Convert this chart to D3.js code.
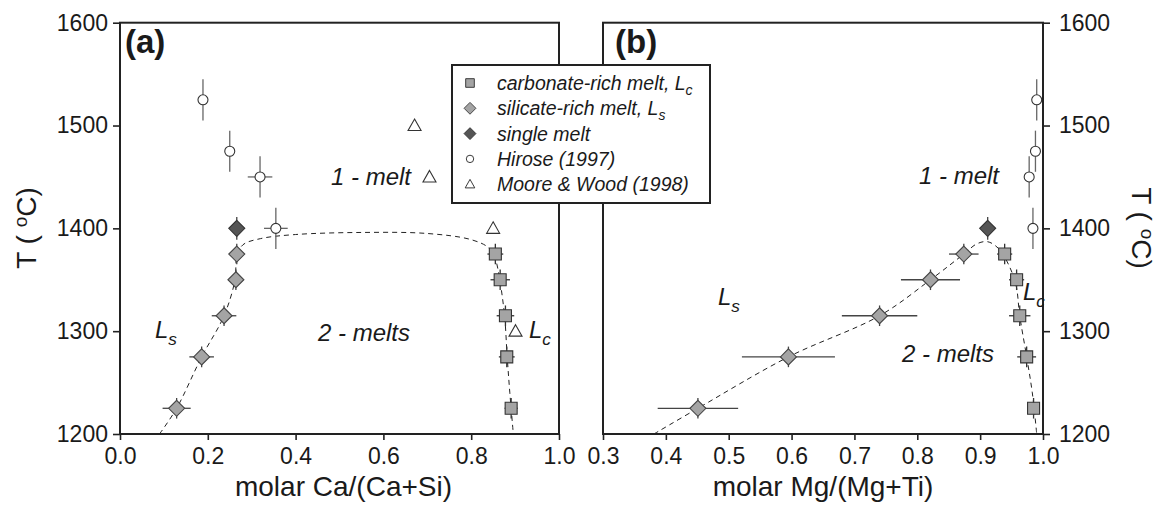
<!DOCTYPE html>
<html>
<head>
<meta charset="utf-8">
<script src="https://cdn.jsdelivr.net/npm/d3@7/dist/d3.min.js"></script>
<style>
  html, body { margin: 0; padding: 0; background: #fff; }
  svg { display: block; font-family: "Liberation Sans", Arial, sans-serif; }
</style>
</head>
<body>
<svg id="chart" width="1158" height="505"></svg>
<script>
// ---- data: run temperatures (°C) ----
const meltT = [1375, 1350, 1315, 1275, 1225];
const meltTErr = [10, 10, 10, 10, 10];
const singleT = [1400];
const hiroseT = [1525, 1475, 1450, 1400];
const hiroseTErr = [20, 20, 20, 20];
const mooreT = [1500, 1450, 1400, 1300];

// ---- panel (a): molar Ca/(Ca+Si) ----
const aCarbX = [0.855, 0.866, 0.878, 0.881, 0.891];
const aCarbXErr = [0.018, 0.022, 0.02, 0.018, 0.015];
const aSilX = [0.266, 0.264, 0.237, 0.186, 0.129];
const aSilXErr = [0.016, 0.017, 0.028, 0.028, 0.032];
const aSingleX = [0.266];
const aHiroseX = [0.189, 0.250, 0.319, 0.355];
const aHiroseXErr = [0, 0, 0.028, 0.027];
const aMooreX = [0.671, 0.705, 0.850, 0.901];
const aBoundX = [0.090, 0.129, 0.186, 0.237, 0.262, 0.266, 0.280, 0.320, 0.400, 0.550, 0.700, 0.800, 0.840, 0.855, 0.865, 0.876, 0.882, 0.888, 0.896];
const aBoundT = [1200, 1225, 1275, 1315, 1350, 1372, 1384, 1390, 1394, 1396, 1395, 1389, 1381, 1370, 1350, 1315, 1275, 1240, 1200];

// ---- panel (b): molar Mg/(Mg+Ti) ----
const bCarbX = [0.939, 0.958, 0.963, 0.974, 0.985];
const bCarbXErr = [0.012, 0.012, 0.017, 0.015, 0.008];
const bSilX = [0.874, 0.821, 0.740, 0.595, 0.451];
const bSilXErr = [0.0235, 0.047, 0.060, 0.074, 0.064];
const bSingleX = [0.912];
const bHiroseX = [0.990, 0.988, 0.978, 0.984];
const bBoundX = [0.381, 0.451, 0.595, 0.740, 0.821, 0.874, 0.895, 0.912, 0.930, 0.945, 0.957, 0.963, 0.974, 0.983, 0.990];
const bBoundT = [1200, 1225, 1275, 1315, 1350, 1375, 1385, 1387, 1380, 1365, 1345, 1315, 1275, 1240, 1200];

// ---- axis ticks ----
const tempTicks = [1200, 1300, 1400, 1500, 1600];
const aTicks = [0.0, 0.2, 0.4, 0.6, 0.8, 1.0];
const bTicks = [0.3, 0.4, 0.5, 0.6, 0.7, 0.8, 0.9, 1.0];

// ---- legend entries ----
const legendLabels = [
  ["carbonate-rich melt, L", "c"],
  ["silicate-rich melt, L", "s"],
  ["single melt", ""],
  ["Hirose (1997)", ""],
  ["Moore & Wood (1998)", ""]
];
const legendKinds = ["square", "diamond", "darkDiamond", "circle", "triangle"];

const svg = d3.select("#chart");
const FONT = '"Liberation Sans", Arial, sans-serif';
const INK = "#222";

const y = d3.scaleLinear().domain([1200, 1600]).range([434, 22.7]);
const xA = d3.scaleLinear().domain([0, 1]).range([120, 559]);
const xB = d3.scaleLinear().domain([0.3, 1]).range([603, 1043]);

const symbols = {
  square: { d: "M-6,-6H6V6H-6Z", fill: "#a4a4a4", stroke: "#333" },
  diamond: { d: "M0,-8L8,0L0,8L-8,0Z", fill: "#a4a4a4", stroke: "#444" },
  darkDiamond: { d: "M0,-8L8,0L0,8L-8,0Z", fill: "#555", stroke: "#333" },
  circle: { d: "M5,0A5,5 0 1,1 -5,0A5,5 0 1,1 5,0Z", fill: "#fff", stroke: "#333" },
  triangle: { d: "M0,-6.5L6.5,5L-6.5,5Z", fill: "#fff", stroke: "#333" }
};

function drawAxes(g, x, ticks, side) {
  const xAxis = d3.axisBottom(x).tickValues(ticks).tickFormat(d3.format(".1f"))
    .tickSize(6).tickPadding(8).tickSizeOuter(0);
  const ax = g.append("g").attr("transform", `translate(0,${y.range()[0]})`).call(xAxis);
  let yAxis, yx;
  if (side === "left") {
    yAxis = d3.axisLeft(y).tickValues(tempTicks).tickFormat(d3.format("d")).tickSize(7).tickPadding(5);
    yx = x.range()[0];
  } else {
    yAxis = d3.axisRight(y).tickValues(tempTicks).tickFormat(d3.format("d")).tickSize(7).tickPadding(9);
    yx = x.range()[1];
  }
  const ay = g.append("g").attr("transform", `translate(${yx},0)`).call(yAxis);
  [ax, ay].forEach(a => {
    a.select(".domain").remove();
    a.selectAll(".tick line").attr("stroke", INK).attr("stroke-width", 1.6);
    a.selectAll(".tick text").attr("fill", "#1a1a1a").style("font-family", FONT).style("font-size", "23px");
  });
}

function drawFrame(g, x) {
  g.append("rect")
    .attr("x", x.range()[0]).attr("y", y.range()[1])
    .attr("width", x.range()[1] - x.range()[0])
    .attr("height", y.range()[0] - y.range()[1])
    .attr("fill", "none").attr("stroke", INK).attr("stroke-width", 2);
}

function drawBoundary(g, x, xs, ts) {
  const line = d3.line().x(d => x(d[0])).y(d => y(d[1])).curve(d3.curveCatmullRom.alpha(0.5));
  g.append("path").datum(xs.map((v, i) => [v, ts[i]]))
    .attr("d", line).attr("fill", "none").attr("stroke", "#222")
    .attr("stroke-width", 1).attr("stroke-dasharray", "5,4");
}

function drawErrorBars(g, x, xs, ts, xErr, tErr, color) {
  xs.forEach((v, i) => {
    const xe = xErr ? xErr[i] : 0;
    const te = tErr ? tErr[i] : 0;
    if (xe > 0) {
      g.append("line").attr("x1", x(v - xe)).attr("x2", x(v + xe))
        .attr("y1", y(ts[i])).attr("y2", y(ts[i]))
        .attr("stroke", color).attr("stroke-width", 1.3);
    }
    if (te > 0) {
      g.append("line").attr("x1", x(v)).attr("x2", x(v))
        .attr("y1", y(ts[i] - te)).attr("y2", y(ts[i] + te))
        .attr("stroke", color).attr("stroke-width", 1.3);
    }
  });
}

function drawMarks(g, x, xs, ts, kind) {
  const s = symbols[kind];
  g.selectAll(null).data(xs.map((v, i) => [v, ts[i]])).enter().append("path")
    .attr("transform", d => `translate(${x(d[0])},${y(d[1])})`)
    .attr("d", s.d).attr("fill", s.fill).attr("stroke", s.stroke).attr("stroke-width", 1.1);
}

function italicLabel(g, px, py, main, sub, size) {
  const t = g.append("text").attr("x", px).attr("y", py)
    .style("font-family", FONT).style("font-style", "italic").style("font-size", size + "px")
    .attr("fill", "#1a1a1a").text(main);
  if (sub) {
    t.append("tspan").attr("dy", size * 0.28).style("font-size", (size * 0.72) + "px").text(sub);
  }
  return t;
}

function tempTitle(g, px, py, rot) {
  const t = g.append("text")
    .attr("transform", `translate(${px},${py}) rotate(${rot})`)
    .attr("text-anchor", "middle")
    .style("font-family", FONT).style("font-size", "28px").attr("fill", "#1a1a1a");
  t.append("tspan").text("T ( ");
  t.append("tspan").attr("dy", -9).style("font-size", "19px").text("o");
  t.append("tspan").attr("dy", 9).text("C)");
}

// ---- panel (a) ----
const gA = svg.append("g");
drawAxes(gA, xA, aTicks, "left");
drawBoundary(gA, xA, aBoundX, aBoundT);
drawErrorBars(gA, xA, aHiroseX, hiroseT, aHiroseXErr, hiroseTErr, "#666");
drawErrorBars(gA, xA, aSilX, meltT, aSilXErr, meltTErr, "#444");
drawErrorBars(gA, xA, aCarbX, meltT, aCarbXErr, meltTErr, "#333");
drawErrorBars(gA, xA, aSingleX, singleT, null, [11], "#444");
drawMarks(gA, xA, aHiroseX, hiroseT, "circle");
drawMarks(gA, xA, aMooreX, mooreT, "triangle");
drawMarks(gA, xA, aSilX, meltT, "diamond");
drawMarks(gA, xA, aCarbX, meltT, "square");
drawMarks(gA, xA, aSingleX, singleT, "darkDiamond");
drawFrame(gA, xA);
gA.append("text").attr("x", 125).attr("y", 53)
  .style("font-family", FONT).style("font-weight", "bold").style("font-size", "33px")
  .attr("fill", "#1a1a1a").text("(a)");
italicLabel(gA, 331, 185, "1 - melt", "", 24);
italicLabel(gA, 318, 341, "2 - melts", "", 24);
italicLabel(gA, 155, 338, "L", "s", 24);
italicLabel(gA, 529, 338, "L", "c", 24);
gA.append("text").attr("x", (xA.range()[0] + xA.range()[1]) / 2 + 4).attr("y", 496)
  .attr("text-anchor", "middle").style("font-family", FONT).style("font-size", "28px")
  .attr("fill", "#1a1a1a").text("molar Ca/(Ca+Si)");
tempTitle(gA, 36, 228, -90);

// ---- panel (b) ----
const gB = svg.append("g");
drawAxes(gB, xB, bTicks, "right");
drawBoundary(gB, xB, bBoundX, bBoundT);
drawErrorBars(gB, xB, bHiroseX, hiroseT, null, hiroseTErr, "#666");
drawErrorBars(gB, xB, bSilX, meltT, bSilXErr, meltTErr, "#444");
drawErrorBars(gB, xB, bCarbX, meltT, bCarbXErr, meltTErr, "#333");
drawErrorBars(gB, xB, bSingleX, singleT, null, [11], "#444");
drawMarks(gB, xB, bHiroseX, hiroseT, "circle");
drawMarks(gB, xB, bSilX, meltT, "diamond");
drawMarks(gB, xB, bCarbX, meltT, "square");
drawMarks(gB, xB, bSingleX, singleT, "darkDiamond");
drawFrame(gB, xB);
gB.append("text").attr("x", 615).attr("y", 53)
  .style("font-family", FONT).style("font-weight", "bold").style("font-size", "33px")
  .attr("fill", "#1a1a1a").text("(b)");
italicLabel(gB, 919, 184, "1 - melt", "", 24);
italicLabel(gB, 902, 362, "2 - melts", "", 24);
italicLabel(gB, 718, 305, "L", "s", 24);
italicLabel(gB, 1023, 300, "L", "c", 24);
gB.append("text").attr("x", (xB.range()[0] + xB.range()[1]) / 2).attr("y", 496)
  .attr("text-anchor", "middle").style("font-family", FONT).style("font-size", "28px")
  .attr("fill", "#1a1a1a").text("molar Mg/(Mg+Ti)");
tempTitle(gB, 1132, 228, 90);

// ---- legend ----
const leg = svg.append("g");
leg.append("rect").attr("x", 452).attr("y", 65).attr("width", 258).attr("height", 138)
  .attr("fill", "#fff").attr("stroke", INK).attr("stroke-width", 2);
legendLabels.forEach((lab, i) => {
  const cy = 83 + i * 25.3;
  const s = symbols[legendKinds[i]];
  const sc = legendKinds[i] === "square" ? 0.72 : 0.74;
  leg.append("path").attr("transform", `translate(470,${cy}) scale(${sc})`)
    .attr("d", s.d).attr("fill", s.fill).attr("stroke", s.stroke).attr("stroke-width", 1.3);
  const t = leg.append("text").attr("x", 497).attr("y", cy + 7)
    .style("font-family", FONT).style("font-style", "italic").style("font-size", "19.5px")
    .attr("fill", "#1a1a1a").text(lab[0]);
  if (lab[1]) t.append("tspan").attr("dy", 5).style("font-size", "14px").text(lab[1]);
});
</script>
</body>
</html>
